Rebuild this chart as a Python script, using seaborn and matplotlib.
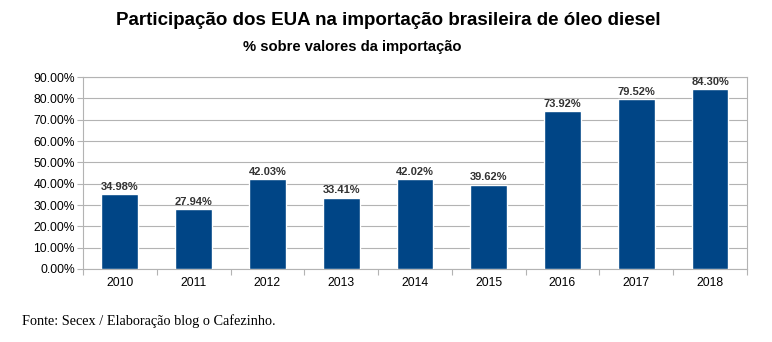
import matplotlib
matplotlib.use("Agg")
import matplotlib.pyplot as plt
import seaborn as sns
import pandas as pd
from matplotlib.ticker import FuncFormatter, MultipleLocator

years = ["2010", "2011", "2012", "2013", "2014", "2015", "2016", "2017", "2018"]
shares = [34.98, 27.94, 42.03, 33.41, 42.02, 39.62, 73.92, 79.52, 84.30]

df = pd.DataFrame({"ano": years, "participacao": shares})

sns.set_theme(style="white")
plt.rcParams["font.family"] = ["Liberation Sans", "DejaVu Sans"]

fig = plt.figure(figsize=(7.72, 3.42), dpi=100)
ax = fig.add_axes([0.1075, 0.2135, 0.86, 0.561])

sns.barplot(data=df, x="ano", y="participacao", color="#004586", width=0.5,
            saturation=1, ax=ax, zorder=3)

ax.set_ylim(0, 90)
ax.set_xlim(-0.5, len(years) - 0.5)
ax.yaxis.set_major_locator(MultipleLocator(10))
ax.yaxis.set_major_formatter(FuncFormatter(lambda v, p: f"{v:.2f}%"))
ax.grid(axis="y", color="#b3b3b3", linewidth=0.8, zorder=0)
ax.set_xlabel("")
ax.set_ylabel("")

for s in ax.spines.values():
    s.set_color("#b3b3b3")
    s.set_linewidth(0.8)

ax.tick_params(axis="y", labelsize=8.7, colors="#000000", length=4, width=0.8,
               left=True, color="#b3b3b3", pad=2)
ax.tick_params(axis="x", labelsize=8.7, colors="#000000", length=0, pad=6)
ax.set_xticks([i - 0.5 for i in range(len(years) + 1)], minor=True)
ax.tick_params(axis="x", which="minor", bottom=True, length=4, width=0.8,
               color="#b3b3b3")

for i, v in enumerate(shares):
    ax.text(i, v + 1.3, f"{v:.2f}%", ha="center", va="bottom", fontsize=8,
            fontweight="bold", color="#333333")

fig.text(0.503, 0.94, "Participação dos EUA na importação brasileira de óleo diesel",
         ha="center", va="center", fontsize=13.5, fontweight="bold", color="#000000")
fig.text(0.456, 0.862, "% sobre valores da importação", ha="center", va="center",
         fontsize=10.6, fontweight="bold", color="#000000")
fig.text(0.028, 0.062, "Fonte: Secex / Elaboração blog o Cafezinho.", ha="left",
         va="center", fontsize=10.3, family=["Liberation Serif", "DejaVu Serif"],
         color="#000000")

fig.savefig("out.png", dpi=100, facecolor="white")
